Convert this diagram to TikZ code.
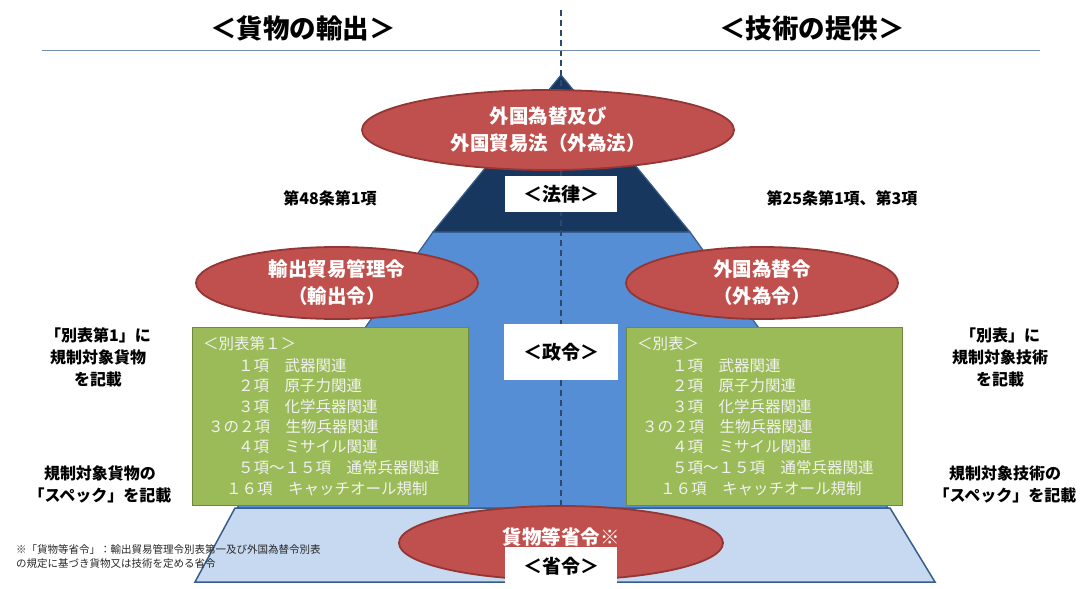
\documentclass[tikz,border=0pt]{standalone}
\usepackage{fontspec}
\setmainfont{Noto Sans CJK JP}
\usetikzlibrary{shapes.geometric}
\definecolor{redf}{HTML}{C0504D}
\definecolor{redd}{HTML}{943634}
\definecolor{navy}{HTML}{17375E}
\definecolor{midb}{HTML}{558ED5}
\definecolor{lightb}{HTML}{C6D9F1}
\definecolor{edgeb}{HTML}{385D8A}
\definecolor{grn}{HTML}{9BBB59}
\definecolor{grnd}{HTML}{71893F}
\begin{document}
\begin{tikzpicture}[x=1pt,y=-1pt,
  ell/.style={ellipse,draw=redd,line width=1.8pt,fill=redf,text=white,font=\bfseries\fontsize{19.5}{27}\selectfont,align=center,inner sep=0pt},
  wbox/.style={fill=white,font=\bfseries\fontsize{19}{22}\selectfont,inner sep=0pt},
  gbox/.style={draw=grnd,line width=1.2pt,fill=grn},
  gtxt/.style={anchor=west,text=white!95!black,font=\fontsize{15.5}{17}\selectfont,inner sep=0pt},
  side/.style={font=\bfseries\fontsize{16}{22}\selectfont,align=center},
  hdr/.style={font=\bfseries\fontsize{26.5}{30}\selectfont}]
\useasboundingbox (0,0) rectangle (1080,589);
% pyramid
\path[draw=edgeb,line width=1.5pt,fill=lightb] (235,508) -- (890,508) -- (935,582) -- (195,582) -- cycle;
\path[draw=edgeb,line width=1.2pt,fill=midb] (433,232) -- (690,232) -- (888,508) -- (237,508) -- cycle;
\path[draw=edgeb,line width=1.2pt,fill=navy] (561,75) -- (690,232) -- (433,232) -- cycle;
\draw[edgeb!80!black,line width=1.8pt,dash pattern=on 6pt off 4pt] (561,10) -- (561,508);
\draw[edgeb!70,line width=0.8pt] (42,50) -- (1040,50);
% headers
\node[hdr] (h1) at (303,28) {＜貨物の輸出＞};
\node[hdr] (h2) at (812,28) {＜技術の提供＞};
% ellipses
\node[ell,minimum width=372pt,minimum height=80pt] (law) at (548,130) {外国為替及び\\外国貿易法（外為法）};
\node[wbox,minimum width=112pt,minimum height=36pt] (b1) at (561,194) {＜法律＞};
\node[ell,minimum width=282pt,minimum height=72pt] (e1) at (337,283) {輸出貿易管理令\\（輸出令）};
\node[ell,minimum width=272pt,minimum height=72pt] (e2) at (762,283) {外国為替令\\（外為令）};
\node[wbox,minimum width=114pt,minimum height=56pt] (b2) at (561,352) {＜政令＞};
\node[ell,minimum width=324pt,minimum height=74pt] (e3) at (561,543) {\raisebox{13pt}{貨物等省令※}};
\node[wbox,minimum width=112pt,minimum height=38pt] (b3) at (561,566) {＜省令＞};
% green boxes
\node[gbox,minimum width=276pt,minimum height=178pt,anchor=north west] (g1) at (192,327) {};
\node[gbox,minimum width=276pt,minimum height=178pt,anchor=north west] (g2) at (626,327) {};
\foreach \dx/\hd in {0/＜別表第１＞,434/＜別表＞}{
\node[gtxt] (t0\dx) at (203+\dx,344) {\hd};
\node[gtxt] (t1\dx) at (238+\dx,366) {１項　武器関連};
\node[gtxt] (t2\dx) at (238+\dx,386) {２項　原子力関連};
\node[gtxt] (t3\dx) at (238+\dx,407) {３項　化学兵器関連};
\node[gtxt] (t4\dx) at (208+\dx,427) {３の２項　生物兵器関連};
\node[gtxt] (t5\dx) at (238+\dx,447) {４項　ミサイル関連};
\node[gtxt] (t6\dx) at (238+\dx,468) {５項～１５項　通常兵器関連};
\node[gtxt] (t7\dx) at (226+\dx,489) {１６項　キャッチオール規制};
}
% side labels
\node[side] (s1) at (330,198) {第48条第1項};
\node[side] (s2) at (842,198) {第25条第1項、第3項};
\node[side] (s3) at (98,357) {「別表第1」に\\規制対象貨物\\を記載};
\node[side] (s4) at (100,484) {規制対象貨物の\\「スペック」を記載};
\node[side] (s5) at (1000,357) {「別表」に\\規制対象技術\\を記載};
\node[side] (s6) at (1005,484) {規制対象技術の\\「スペック」を記載};
\node[anchor=north west,align=left,font=\fontsize{10.5}{14}\selectfont,text=black!85,inner sep=0pt] (fn) at (16,544) {※「貨物等省令」：輸出貿易管理令別表第一及び外国為替令別表\\の規定に基づき貨物又は技術を定める省令};
\end{tikzpicture}
\end{document}
